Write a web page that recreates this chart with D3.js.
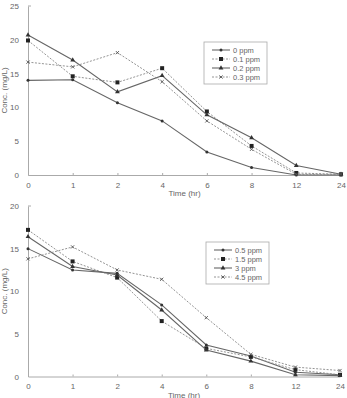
<!DOCTYPE html>
<html>
<head>
<meta charset="utf-8">
<script src="https://cdn.jsdelivr.net/npm/d3@7"></script>
<style>
  body { margin: 0; background: #fff; }
  svg text { font-family: "Liberation Sans", Arial, sans-serif; fill: #666; }
</style>
</head>
<body>
<svg id="chart" width="347" height="398"></svg>
<script>
// time points (hr), shown as evenly spaced categories
const times = ["0", "1", "2", "4", "6", "8", "12", "24"]

// top panel
const topNames = ["0 ppm", "0.1 ppm", "0.2 ppm", "0.3 ppm"]
const top0 = [14.0, 14.1, 10.7, 8.0, 3.4, 1.1, 0.0, 0.0]
const top01 = [19.9, 14.6, 13.7, 15.8, 9.4, 4.3, 0.3, 0.1]
const top02 = [20.7, 17.0, 12.3, 14.7, 8.9, 5.5, 1.4, 0.1]
const top03 = [16.7, 16.0, 18.1, 13.8, 8.0, 3.8, 0.1, 0.1]

// bottom panel
const botNames = ["0.5 ppm", "1.5 ppm", "3 ppm", "4.5 ppm"]
const bot05 = [15.0, 12.5, 12.1, 8.4, 3.7, 2.4, 0.5, 0.2]
const bot15 = [17.2, 13.5, 11.6, 6.5, 3.3, 2.3, 0.8, 0.2]
const bot3 = [16.4, 12.9, 11.9, 7.8, 3.1, 1.8, 0.2, 0.1]
const bot45 = [13.8, 15.2, 12.5, 11.4, 6.9, 2.6, 1.1, 0.7]

const MARKERS = ["dot", "square", "triangle", "cross"]
const DASHED = [false, true, false, true]

var svg = d3.select("#chart")

function drawPanel(cfg){
  var g = svg.append("g")

  var x = d3.scalePoint().domain(times).range([cfg.x0, cfg.x1])
  var y = d3.scaleLinear().domain([0, cfg.ymax]).range([cfg.yBottom, cfg.yTop])

  //axes
  var yAxis = d3.axisLeft(y).tickValues(d3.range(0, cfg.ymax + 1, 5)).tickSize(0).tickPadding(9)
  var yg = g.append("g").attr("transform", "translate(" + cfg.x0 + ",0)").call(yAxis)
  yg.select(".domain").attr("stroke", "#aaa")
  yg.selectAll("text").style("font-size", "8px").attr("fill", "#777")
  yg.append("line").attr("x1", 0).attr("x2", 3).attr("y1", cfg.yTop).attr("y2", cfg.yTop).attr("stroke", "#aaa")

  var xAxis = d3.axisBottom(x).tickSize(-2).tickPadding(7)
  var xg = g.append("g").attr("transform", "translate(0," + cfg.yBottom + ")").call(xAxis)
  xg.select(".domain").attr("stroke", "#aaa")
  xg.selectAll(".tick line").attr("stroke", "#aaa")
  xg.selectAll("text").style("font-size", "8px").attr("fill", "#777")

  g.append("text")
    .attr("x", (cfg.x0 + cfg.x1) / 2)
    .attr("y", cfg.yBottom + 21)
    .attr("text-anchor", "middle")
    .style("font-size", "8px")
    .text("Time (hr)")

  g.append("text")
    .attr("transform", "translate(7," + ((cfg.yTop + cfg.yBottom) / 2) + ")rotate(-90)")
    .attr("text-anchor", "middle")
    .style("font-size", "8px")
    .text("Conc. (mg/L)")

  var line = d3.line().x((d, i) => x(times[i])).y(d => y(d))

  cfg.series.forEach((vals, si) => {
    g.append("path")
      .datum(vals)
      .attr("d", line)
      .attr("fill", "none")
      .attr("stroke", DASHED[si] ? "#888" : "#666")
      .attr("stroke-width", DASHED[si] ? 0.9 : 1.1)
      .attr("stroke-dasharray", DASHED[si] ? "2,1.5" : null)

    vals.forEach((v, i) => drawMarker(g, MARKERS[si], x(times[i]), y(v)))
  })

  //legend
  var lg = g.append("g").attr("transform", "translate(" + cfg.legX + "," + cfg.legY + ")")
  lg.append("rect")
    .attr("width", 63).attr("height", 42)
    .attr("fill", "#fff").attr("stroke", "#aaa").attr("stroke-width", 0.8)
  cfg.names.forEach((name, si) => {
    var ly = 8 + si * 9
    lg.append("line")
      .attr("x1", 8).attr("x2", 26).attr("y1", ly).attr("y2", ly)
      .attr("stroke", DASHED[si] ? "#888" : "#666")
      .attr("stroke-width", DASHED[si] ? 0.9 : 1.1)
      .attr("stroke-dasharray", DASHED[si] ? "2,1.5" : null)
    drawMarker(lg, MARKERS[si], 17, ly)
    lg.append("text")
      .attr("x", 29).attr("y", ly + 3)
      .style("font-size", "7.5px")
      .attr("fill", "#777")
      .text(name)
  })
}

function drawMarker(g, kind, cx, cy){
  if(kind == "dot"){
    g.append("circle").attr("cx", cx).attr("cy", cy).attr("r", 1.5).attr("fill", "#333")
  }
  else if(kind == "square"){
    g.append("rect").attr("x", cx - 2).attr("y", cy - 2).attr("width", 4).attr("height", 4).attr("fill", "#222")
  }
  else if(kind == "triangle"){
    var s = d3.symbol().type(d3.symbolTriangle).size(10)
    g.append("path").attr("d", s()).attr("transform", "translate(" + cx + "," + cy + ")").attr("fill", "#333")
  }
  else{
    var p = d3.path()
    p.moveTo(cx - 1.6, cy - 1.6); p.lineTo(cx + 1.6, cy + 1.6)
    p.moveTo(cx - 1.6, cy + 1.6); p.lineTo(cx + 1.6, cy - 1.6)
    g.append("path").attr("d", p.toString()).attr("stroke", "#555").attr("stroke-width", 0.9)
  }
}

drawPanel({
  x0: 28, x1: 341, yTop: 6, yBottom: 175, ymax: 25,
  series: [top0, top01, top02, top03], names: topNames,
  legX: 204, legY: 42
})

drawPanel({
  x0: 28, x1: 340, yTop: 206, yBottom: 376.5, ymax: 20,
  series: [bot05, bot15, bot3, bot45], names: botNames,
  legX: 206, legY: 242
})
</script>
</body>
</html>
